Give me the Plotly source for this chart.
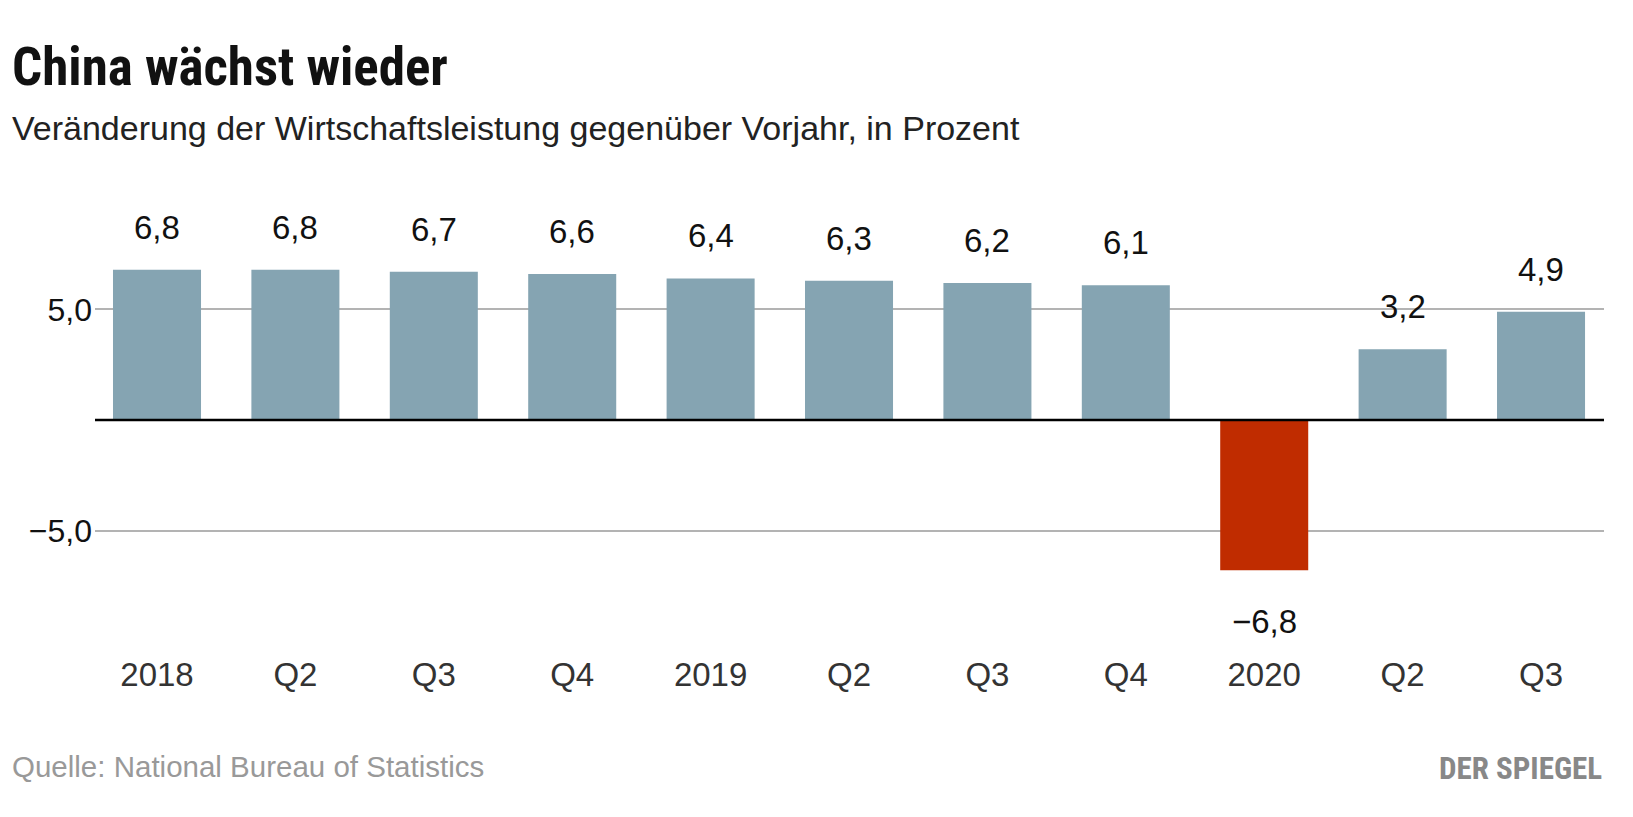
import plotly.graph_objects as go

categories = ["2018", "Q2 '18", "Q3 '18", "Q4 '18", "2019", "Q2 '19", "Q3 '19", "Q4 '19", "2020", "Q2 '20", "Q3 '20"]
tick_labels = ["2018", "Q2", "Q3", "Q4", "2019", "Q2", "Q3", "Q4", "2020", "Q2", "Q3"]
values = [6.8, 6.8, 6.7, 6.6, 6.4, 6.3, 6.2, 6.1, -6.8, 3.2, 4.9]
y_tickvals = [-5, 5]
y_ticktext = ["\u22125,0", "5,0"]

POS = "#85a4b2"
NEG = "#c02c00"
colors = [POS if v >= 0 else NEG for v in values]

def fmt(v):
    return f"{v:.1f}".replace(".", ",").replace("-", "\u2212")

# page body has an 8px margin; figure coords = page coords - 8
OFF = 8
W, H = 1633 - 2 * OFF, 817 - 2 * OFF
L, T = 95 - OFF, 200 - OFF
R = W - (1604 - OFF)
B = H - (640 - OFF)
pw, ph = W - L - R, H - T - B

def px_x(p):
    return (p - OFF - L) / pw

def px_y(p):
    return (H - B - (p - OFF)) / ph

fig = go.Figure()
fig.add_trace(go.Bar(
    x=categories, y=values, marker=dict(color=colors, line=dict(width=0)),
    hoverinfo="skip",
))

annotations = []
for i, v in enumerate(values):
    annotations.append(dict(
        x=i, y=v, xref="x", yref="y", text=fmt(v), showarrow=False,
        yanchor="bottom" if v >= 0 else "top",
        yshift=22 if v >= 0 else -31,
        font=dict(family="Liberation Sans, Arial, sans-serif", size=33, color="#111"),
    ))

narrow = "Liberation Sans Narrow, Roboto Condensed, DejaVu Sans Condensed, Arial Narrow, sans-serif"
regular = "Liberation Sans, Arial, sans-serif"
annotations += [
    dict(x=px_x(10), y=px_y(67), xref="paper", yref="paper", xanchor="left", yanchor="middle",
         text="<b>China wächst wieder</b>", showarrow=False,
         font=dict(family=narrow, size=53, color="#111")),
    dict(x=px_x(10), y=px_y(128), xref="paper", yref="paper", xanchor="left", yanchor="middle",
         text="Veränderung der Wirtschaftsleistung gegenüber Vorjahr, in Prozent", showarrow=False,
         font=dict(family=regular, size=34, color="#222")),
    dict(x=px_x(10), y=px_y(766), xref="paper", yref="paper", xanchor="left", yanchor="middle",
         text="Quelle: National Bureau of Statistics", showarrow=False,
         font=dict(family=regular, size=29.5, color="#999")),
    dict(x=px_x(1604), y=px_y(768), xref="paper", yref="paper", xanchor="right", yanchor="middle",
         text="<b>DER SPIEGEL</b>", showarrow=False,
         font=dict(family=narrow, size=31, color="#888")),
]

fig.update_layout(
    width=W, height=H,
    margin=dict(l=L, r=R, t=T, b=B, pad=0),
    paper_bgcolor="white", plot_bgcolor="white",
    showlegend=False,
    bargap=0.364,
    annotations=annotations,
    shapes=[dict(type="line", xref="paper", yref="y", x0=0, x1=1, y0=0, y1=0,
                 line=dict(color="black", width=2.5), layer="above")],
)
fig.update_xaxes(
    type="category",
    range=[-0.448, 10.455],
    tickvals=categories, ticktext=tick_labels,
    showgrid=False, zeroline=False, showline=False, ticks="",
    ticklabelstandoff=12,
    tickfont=dict(family=regular, size=33, color="#333"),
)
fig.update_yaxes(
    range=[-9.95, 9.95],
    tickvals=y_tickvals, ticktext=y_ticktext,
    showgrid=True, gridcolor="#b3b3b3", gridwidth=2,
    zeroline=False, showline=False, ticks="",
    ticklabelstandoff=2,
    tickfont=dict(family=regular, size=32, color="#111"),
)

fig.write_html("out.html")
